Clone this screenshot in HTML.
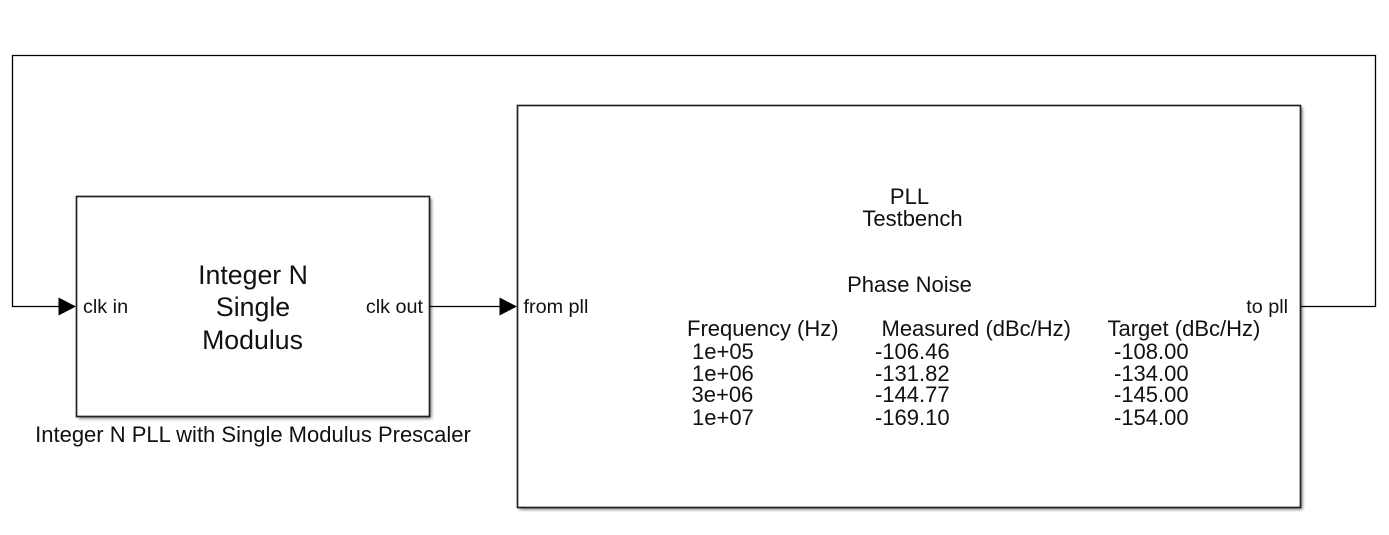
<!DOCTYPE html>
<html><head><meta charset="utf-8"><style>
html,body{margin:0;padding:0;background:#fff}
svg{display:block}
text{font-family:"Liberation Sans",Arial,sans-serif;fill:#111}
</style></head><body>
<svg width="1389" height="535" viewBox="0 0 1389 535" xmlns="http://www.w3.org/2000/svg">
<defs><filter id="s" x="-3%" y="-3%" width="106%" height="106%"><feGaussianBlur stdDeviation="1.6"/></filter></defs>
<rect x="78.5" y="198.5" width="353" height="220" fill="#777" filter="url(#s)"/>
<rect x="519.5" y="107.5" width="783" height="402" fill="#777" filter="url(#s)"/>
<rect x="76.5" y="196.5" width="353" height="220" fill="#fff" stroke="#222" stroke-width="1.7"/>
<rect x="517.5" y="105.5" width="783" height="402" fill="#fff" stroke="#222" stroke-width="1.7"/>
<g fill="none" stroke="#000" stroke-width="1.3">
<path d="M1301 306.5H1375.5V55.5H12.5V306.5H60"/>
<path d="M430 306.5H501"/>
</g>
<path d="M58.5 297.5L76 306.5L58.5 315.5Z" fill="#000"/>
<path d="M499.5 297.5L517 306.5L499.5 315.5Z" fill="#000"/>
<g font-size="26.7" text-anchor="middle">
<text x="253" y="284">Integer N</text>
<text x="253" y="316">Single</text>
<text x="252.5" y="349">Modulus</text>
</g>
<g font-size="19.8">
<text x="83" y="313">clk in</text>
<text x="423" y="313" text-anchor="end">clk out</text>
<text x="523.5" y="313">from pll</text>
<text x="1288" y="313" text-anchor="end">to pll</text>
</g>
<text x="253" y="442" font-size="22" text-anchor="middle">Integer N PLL with Single Modulus Prescaler</text>
<g font-size="22">
<text x="909.5" y="204" text-anchor="middle">PLL</text>
<text x="912.5" y="226" text-anchor="middle">Testbench</text>
<text x="909.5" y="292" text-anchor="middle">Phase Noise</text>
<text x="687" y="336">Frequency (Hz)</text>
<text x="881.5" y="336">Measured (dBc/Hz)</text>
<text x="1107.5" y="336">Target (dBc/Hz)</text>
<text x="692" y="359">1e+05</text>
<text x="692" y="381">1e+06</text>
<text x="691.5" y="402">3e+06</text>
<text x="692" y="425">1e+07</text>
<text x="875" y="359">-106.46</text>
<text x="875" y="381">-131.82</text>
<text x="875" y="402">-144.77</text>
<text x="875" y="425">-169.10</text>
<text x="1114" y="359">-108.00</text>
<text x="1114" y="381">-134.00</text>
<text x="1114" y="402">-145.00</text>
<text x="1114" y="425">-154.00</text>
</g>
</svg>
</body></html>
